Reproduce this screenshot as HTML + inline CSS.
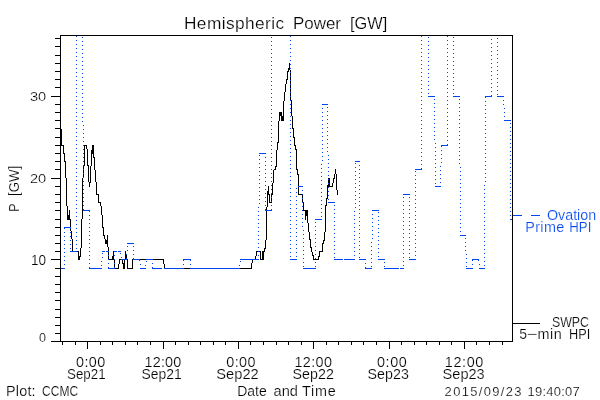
<!DOCTYPE html>
<html><head><meta charset="utf-8"><style>
html,body{margin:0;padding:0;background:#fff;width:600px;height:400px;overflow:hidden}
svg{display:block}
text{font-family:"Liberation Sans", sans-serif;}
</style></head><body>
<svg width="600" height="400" viewBox="0 0 600 400">
<rect width="600" height="400" fill="#fff"/>
<g shape-rendering="crispEdges">
<path fill="#000000" d="M60 35h453v1h-453zM60 36h1v2h-1zM55 38h6v1h-6zM60 39h1v7h-1zM55 46h6v1h-6zM60 47h1v8h-1zM55 55h6v1h-6zM60 56h1v7h-1zM55 63h6v1h-6zM289 63h1v5h-1zM288 68h2v2h-2zM60 64h1v7h-1zM288 70h1v1h-1zM290 70h1v2h-1zM55 71h6v1h-6zM287 71h2v1h-2zM290 73h1v3h-1zM60 72h1v7h-1zM287 72h1v7h-1zM290 77h1v3h-1zM286 79h2v1h-2zM55 79h6v1h-6zM286 80h1v4h-1zM290 81h1v3h-1zM60 80h1v7h-1zM290 85h1v3h-1zM55 87h6v1h-6zM285 84h1v8h-1zM290 89h1v3h-1zM60 88h1v8h-1zM290 93h1v3h-1zM51 96h10v1h-10zM290 97h1v3h-1zM284 92h1v9h-1zM60 97h1v7h-1zM55 104h6v1h-6zM60 105h1v7h-1zM55 112h6v1h-6zM291 100h1v16h-1zM283 101h1v15h-1zM279 112h3v4h-3zM60 113h1v7h-1zM279 116h1v5h-1zM281 116h3v5h-3zM55 120h6v1h-6zM292 116h1v12h-1zM60 121h1v7h-1zM292 128h2v1h-2zM55 128h6v1h-6zM60 129h2v8h-2zM293 129h1v8h-1zM55 137h7v1h-7zM293 137h2v1h-2zM278 121h1v21h-1zM277 142h2v1h-2zM294 138h1v7h-1zM60 138h2v7h-2zM55 145h9v1h-9zM294 145h2v1h-2zM84 145h3v1h-3zM295 146h1v3h-1zM86 146h1v3h-1zM277 143h1v7h-1zM92 145h2v5h-2zM295 149h2v1h-2zM63 146h1v7h-1zM60 146h1v7h-1zM91 150h3v4h-3zM63 153h2v1h-2zM55 153h6v1h-6zM93 154h1v3h-1zM93 157h2v1h-2zM64 154h1v7h-1zM60 154h1v7h-1zM64 161h2v1h-2zM55 161h6v1h-6zM87 149h1v16h-1zM84 146h1v20h-1zM276 150h1v16h-1zM91 154h1v12h-1zM87 165h2v1h-2zM275 166h2v1h-2zM296 150h1v19h-1zM60 162h1v7h-1zM83 166h1v3h-1zM275 167h1v2h-1zM94 158h1v12h-1zM296 169h2v1h-2zM274 169h2v1h-2zM55 169h6v1h-6zM83 170h1v3h-1zM335 169h1v5h-1zM297 170h1v4h-1zM297 174h2v1h-2zM83 174h1v3h-1zM65 162h1v16h-1zM60 170h1v8h-1zM334 174h1v4h-1zM51 178h10v1h-10zM333 178h2v1h-2zM328 178h2v1h-2zM329 179h1v1h-1zM90 166h1v16h-1zM88 166h1v16h-1zM95 170h1v12h-1zM273 170h1v13h-1zM333 179h1v4h-1zM328 180h2v3h-2zM89 182h2v1h-2zM329 183h1v1h-1zM328 184h2v1h-2zM298 175h1v11h-1zM60 179h1v7h-1zM332 183h1v3h-1zM327 185h3v1h-3zM89 183h1v4h-1zM327 186h6v1h-6zM55 186h6v1h-6zM336 174h1v16h-1zM268 186h1v5h-1zM96 182h1v12h-1zM272 183h1v11h-1zM298 187h1v7h-1zM60 187h1v7h-1zM267 191h2v3h-2zM337 190h1v5h-1zM267 194h3v1h-3zM271 194h2v1h-2zM55 194h6v1h-6zM96 194h3v1h-3zM298 194h4v1h-4zM271 195h1v2h-1zM327 187h1v11h-1zM302 195h1v3h-1zM326 198h2v1h-2zM271 198h1v3h-1zM98 195h1v7h-1zM269 195h1v7h-1zM60 195h1v7h-1zM302 199h1v3h-1zM269 202h3v1h-3zM98 202h3v1h-3zM55 202h6v1h-6zM326 199h1v6h-1zM66 178h1v28h-1zM100 203h1v3h-1zM325 205h2v1h-2zM267 195h1v12h-1zM303 202h1v8h-1zM60 203h1v7h-1zM266 207h1v3h-1zM303 210h5v1h-5zM55 210h6v1h-6zM67 206h1v9h-1zM101 206h1v9h-1zM69 210h1v5h-1zM305 211h3v5h-3zM82 178h1v41h-1zM60 211h1v8h-1zM67 215h3v4h-3zM305 216h1v4h-1zM67 219h4v1h-4zM55 219h6v1h-6zM307 216h1v7h-1zM102 215h1v12h-1zM70 220h1v7h-1zM60 220h1v7h-1zM102 227h2v1h-2zM55 227h6v1h-6zM70 229h1v2h-1zM325 206h1v26h-1zM308 223h1v9h-1zM103 228h1v7h-1zM60 228h1v7h-1zM103 235h2v1h-2zM55 235h6v1h-6zM71 231h1v8h-1zM309 232h1v7h-1zM104 236h1v3h-1zM266 211h1v29h-1zM324 232h1v8h-1zM107 235h1v5h-1zM105 239h1v1h-1zM309 239h2v1h-2zM323 240h2v1h-2zM60 236h1v7h-1zM323 241h1v2h-1zM105 240h3v4h-3zM322 243h2v1h-2zM55 243h6v1h-6zM310 240h1v7h-1zM107 244h1v3h-1zM81 219h1v29h-1zM265 240h1v8h-1zM310 247h2v1h-2zM264 248h2v1h-2zM72 239h1v12h-1zM60 244h1v7h-1zM322 244h1v7h-1zM108 247h1v4h-1zM264 249h1v2h-1zM311 248h1v4h-1zM262 251h3v1h-3zM319 251h4v1h-4zM259 251h2v1h-2zM77 251h2v1h-2zM256 251h2v1h-2zM55 251h6v1h-6zM125 251h1v4h-1zM312 252h1v3h-1zM108 252h1v3h-1zM80 248h1v8h-1zM113 251h1v5h-1zM319 252h1v4h-1zM256 252h1v4h-1zM78 252h1v4h-1zM312 255h2v1h-2zM78 256h3v1h-3zM318 256h2v1h-2zM125 255h2v3h-2zM262 252h2v7h-2zM260 252h1v7h-1zM60 252h1v7h-1zM112 256h2v3h-2zM108 256h1v3h-1zM255 256h1v3h-1zM313 256h1v3h-1zM318 257h1v2h-1zM125 258h1v1h-1zM78 257h2v3h-2zM51 259h10v1h-10zM109 259h5v1h-5zM119 259h2v1h-2zM140 259h6v1h-6zM313 259h6v1h-6zM153 259h11v1h-11zM260 259h4v1h-4zM114 260h1v3h-1zM252 260h1v3h-1zM122 260h1v3h-1zM124 260h1v3h-1zM119 260h1v4h-1zM163 260h1v4h-1zM122 263h3v1h-3zM114 264h1v3h-1zM132 259h1v9h-1zM127 259h1v9h-1zM60 260h1v8h-1zM251 263h1v5h-1zM164 264h1v4h-1zM118 264h1v4h-1zM123 264h2v5h-2zM127 268h6v1h-6zM184 268h6v1h-6zM240 268h12v1h-12zM115 268h4v1h-4zM55 268h6v1h-6zM60 269h1v7h-1zM55 276h6v1h-6zM60 277h1v7h-1zM55 284h6v1h-6zM60 285h1v7h-1zM55 292h6v1h-6zM60 293h1v7h-1zM55 300h6v1h-6zM60 301h1v8h-1zM55 309h6v1h-6zM60 310h1v7h-1zM55 317h6v1h-6zM512 36h1v287h-1zM512 323h28v1h-28zM60 318h1v7h-1zM55 325h6v1h-6zM60 326h1v7h-1zM55 333h6v1h-6zM512 324h1v17h-1zM60 334h1v7h-1zM51 341h462v1h-462zM451 342h1v3h-1zM502 342h1v3h-1zM414 342h1v3h-1zM125 342h1v3h-1zM263 342h1v3h-1zM401 342h1v3h-1zM112 342h1v3h-1zM75 342h1v3h-1zM213 342h1v3h-1zM351 342h1v3h-1zM62 342h1v3h-1zM489 342h1v3h-1zM200 342h1v3h-1zM250 342h1v3h-1zM301 342h1v3h-1zM439 342h1v3h-1zM150 342h1v3h-1zM338 342h1v3h-1zM476 342h1v3h-1zM100 342h1v3h-1zM288 342h1v3h-1zM426 342h1v3h-1zM137 342h1v3h-1zM188 342h1v3h-1zM376 342h1v3h-1zM225 342h1v3h-1zM363 342h1v3h-1zM276 342h1v3h-1zM326 342h1v3h-1zM175 342h1v3h-1zM163 342h1v7h-1zM389 342h1v7h-1zM238 342h1v7h-1zM87 342h1v7h-1zM464 342h1v7h-1zM313 342h1v7h-1z"/>
<path fill="#0046f0" d="M447 36h1v1h-1zM76 36h1v1h-1zM290 36h1v1h-1zM421 36h1v1h-1zM453 37h1v1h-1zM428 37h1v1h-1zM82 37h1v1h-1zM271 37h1v1h-1zM497 38h1v1h-1zM491 39h1v1h-1zM447 40h1v1h-1zM76 40h1v1h-1zM290 40h1v1h-1zM421 40h1v1h-1zM453 41h1v1h-1zM428 41h1v1h-1zM82 41h1v1h-1zM271 41h1v1h-1zM497 42h1v1h-1zM491 43h1v1h-1zM447 44h1v1h-1zM76 44h1v1h-1zM290 44h1v1h-1zM421 44h1v1h-1zM453 45h1v1h-1zM428 45h1v1h-1zM82 45h1v1h-1zM271 45h1v1h-1zM497 46h1v1h-1zM491 47h1v1h-1zM447 48h1v1h-1zM76 48h1v1h-1zM290 48h1v1h-1zM421 48h1v1h-1zM453 49h1v1h-1zM428 49h1v1h-1zM82 49h1v1h-1zM271 49h1v1h-1zM497 50h1v1h-1zM491 51h1v1h-1zM447 52h1v1h-1zM76 52h1v1h-1zM290 52h1v1h-1zM421 52h1v1h-1zM453 53h1v1h-1zM428 53h1v1h-1zM82 53h1v1h-1zM271 53h1v1h-1zM497 54h1v1h-1zM491 55h1v1h-1zM447 56h1v1h-1zM76 56h1v1h-1zM290 56h1v1h-1zM421 56h1v1h-1zM453 57h1v1h-1zM428 57h1v1h-1zM82 57h1v1h-1zM271 57h1v1h-1zM497 58h1v1h-1zM491 59h1v1h-1zM447 60h1v1h-1zM76 60h1v1h-1zM290 60h1v1h-1zM421 60h1v1h-1zM453 61h1v1h-1zM428 61h1v1h-1zM82 61h1v1h-1zM271 61h1v1h-1zM497 62h1v1h-1zM491 63h1v1h-1zM447 64h1v1h-1zM76 64h1v1h-1zM290 64h1v1h-1zM421 64h1v1h-1zM453 65h1v1h-1zM428 65h1v1h-1zM82 65h1v1h-1zM271 65h1v1h-1zM497 66h1v1h-1zM491 67h1v1h-1zM447 68h1v1h-1zM76 68h1v1h-1zM290 68h1v1h-1zM421 68h1v1h-1zM453 69h1v1h-1zM428 69h1v1h-1zM82 69h1v1h-1zM271 69h1v1h-1zM497 70h1v1h-1zM491 71h1v1h-1zM447 72h1v1h-1zM76 72h1v1h-1zM290 72h1v1h-1zM421 72h1v1h-1zM453 73h1v1h-1zM428 73h1v1h-1zM82 73h1v1h-1zM271 73h1v1h-1zM497 74h1v1h-1zM491 75h1v1h-1zM447 76h1v1h-1zM76 76h1v1h-1zM290 76h1v1h-1zM421 76h1v1h-1zM453 77h1v1h-1zM428 77h1v1h-1zM82 77h1v1h-1zM271 77h1v1h-1zM497 78h1v1h-1zM491 79h1v1h-1zM447 80h1v1h-1zM76 80h1v1h-1zM290 80h1v1h-1zM421 80h1v1h-1zM453 81h1v1h-1zM428 81h1v1h-1zM82 81h1v1h-1zM271 81h1v1h-1zM497 82h1v1h-1zM491 83h1v1h-1zM447 84h1v1h-1zM76 84h1v1h-1zM290 84h1v1h-1zM421 84h1v1h-1zM453 85h1v1h-1zM428 85h1v1h-1zM82 85h1v1h-1zM271 85h1v1h-1zM497 86h1v1h-1zM491 87h1v1h-1zM447 88h1v1h-1zM76 88h1v1h-1zM290 88h1v1h-1zM421 88h1v1h-1zM453 89h1v1h-1zM428 89h1v1h-1zM82 89h1v1h-1zM271 89h1v1h-1zM497 90h1v1h-1zM491 91h1v1h-1zM447 92h1v1h-1zM76 92h1v1h-1zM290 92h1v1h-1zM421 92h1v1h-1zM453 93h1v1h-1zM428 93h1v1h-1zM82 93h1v1h-1zM271 93h1v1h-1zM497 94h1v1h-1zM491 95h1v1h-1zM447 96h1v1h-1zM76 96h1v1h-1zM428 96h7v1h-7zM421 96h1v1h-1zM485 96h7v1h-7zM290 96h1v1h-1zM497 96h7v1h-7zM453 96h7v1h-7zM485 97h1v1h-1zM82 97h1v1h-1zM271 97h1v1h-1zM459 99h1v1h-1zM434 99h1v1h-1zM447 100h1v1h-1zM76 100h1v1h-1zM503 100h1v1h-1zM421 100h1v1h-1zM290 100h1v1h-1zM485 101h1v1h-1zM82 101h1v1h-1zM271 101h1v1h-1zM459 103h1v1h-1zM434 103h1v1h-1zM447 104h1v1h-1zM76 104h1v1h-1zM503 104h1v1h-1zM421 104h1v1h-1zM290 104h1v1h-1zM322 104h6v1h-6zM485 105h1v1h-1zM82 105h1v1h-1zM271 105h1v1h-1zM327 107h1v1h-1zM459 107h1v1h-1zM434 107h1v1h-1zM447 108h1v1h-1zM76 108h1v1h-1zM421 108h1v1h-1zM290 108h1v1h-1zM504 108h1v1h-1zM322 108h1v1h-1zM485 109h1v1h-1zM82 109h1v1h-1zM271 109h1v1h-1zM327 111h1v1h-1zM459 111h1v1h-1zM434 111h1v1h-1zM447 112h1v1h-1zM76 112h1v1h-1zM421 112h1v1h-1zM290 112h1v1h-1zM504 112h1v1h-1zM322 112h1v1h-1zM485 113h1v1h-1zM82 113h1v1h-1zM271 113h1v1h-1zM327 115h1v1h-1zM459 115h1v1h-1zM434 115h1v1h-1zM447 116h1v1h-1zM76 116h1v1h-1zM421 116h1v1h-1zM290 116h1v1h-1zM504 116h1v1h-1zM322 116h1v1h-1zM485 117h1v1h-1zM82 117h1v1h-1zM271 117h1v1h-1zM327 119h1v1h-1zM459 119h1v1h-1zM434 119h1v1h-1zM447 120h1v1h-1zM76 120h1v1h-1zM421 120h1v1h-1zM290 120h1v1h-1zM504 120h7v1h-7zM322 120h1v1h-1zM485 121h1v1h-1zM82 121h1v1h-1zM271 121h1v1h-1zM327 123h1v1h-1zM510 123h1v1h-1zM459 123h1v1h-1zM434 123h1v1h-1zM447 124h1v1h-1zM76 124h1v1h-1zM421 124h1v1h-1zM290 124h1v1h-1zM322 124h1v1h-1zM83 125h1v1h-1zM271 125h1v1h-1zM485 125h1v1h-1zM327 127h1v1h-1zM510 127h1v1h-1zM459 127h1v1h-1zM434 127h1v1h-1zM447 128h1v1h-1zM76 128h1v1h-1zM421 128h1v1h-1zM290 128h1v1h-1zM322 128h1v1h-1zM83 129h1v1h-1zM271 129h1v1h-1zM485 129h1v1h-1zM327 131h1v1h-1zM510 131h1v1h-1zM459 131h1v1h-1zM434 131h1v1h-1zM447 132h1v1h-1zM76 132h1v1h-1zM421 132h1v1h-1zM290 132h1v1h-1zM322 132h1v1h-1zM83 133h1v1h-1zM271 133h1v1h-1zM485 133h1v1h-1zM327 135h1v1h-1zM510 135h1v1h-1zM459 135h1v1h-1zM434 135h1v1h-1zM447 136h1v1h-1zM76 136h1v1h-1zM421 136h1v1h-1zM290 136h1v1h-1zM322 136h1v1h-1zM83 137h1v1h-1zM271 137h1v1h-1zM485 137h1v1h-1zM327 139h1v1h-1zM510 139h1v1h-1zM459 139h1v1h-1zM434 139h1v1h-1zM447 140h1v1h-1zM76 140h1v1h-1zM421 140h1v1h-1zM290 140h1v1h-1zM322 140h1v1h-1zM83 141h1v1h-1zM271 141h1v1h-1zM485 141h1v1h-1zM327 143h1v1h-1zM510 143h1v1h-1zM459 143h1v1h-1zM435 143h1v1h-1zM447 144h1v1h-1zM76 144h1v1h-1zM421 144h1v1h-1zM290 144h1v1h-1zM322 144h1v1h-1zM83 145h1v1h-1zM441 145h7v1h-7zM271 145h1v1h-1zM485 145h1v1h-1zM441 146h1v1h-1zM327 147h1v1h-1zM510 147h1v1h-1zM459 147h1v1h-1zM435 147h1v1h-1zM76 148h1v1h-1zM421 148h1v1h-1zM290 148h1v1h-1zM322 148h1v1h-1zM83 149h1v1h-1zM271 149h1v1h-1zM485 149h1v1h-1zM441 150h1v1h-1zM327 151h1v1h-1zM510 151h1v1h-1zM459 151h1v1h-1zM435 151h1v1h-1zM76 152h1v1h-1zM421 152h1v1h-1zM290 152h1v1h-1zM322 152h1v1h-1zM83 153h1v1h-1zM259 153h7v1h-7zM271 153h1v1h-1zM485 153h1v1h-1zM441 154h1v1h-1zM435 155h1v1h-1zM459 155h1v1h-1zM328 155h1v1h-1zM510 155h1v1h-1zM259 155h1v1h-1zM76 156h1v1h-1zM421 156h1v1h-1zM290 156h1v1h-1zM322 156h1v1h-1zM83 157h1v1h-1zM265 157h1v1h-1zM271 157h1v1h-1zM485 157h1v1h-1zM441 158h1v1h-1zM435 159h1v1h-1zM459 159h1v1h-1zM328 159h1v1h-1zM510 159h1v1h-1zM259 159h1v1h-1zM76 160h1v1h-1zM421 160h1v1h-1zM290 160h1v1h-1zM322 160h1v1h-1zM271 161h1v1h-1zM485 161h1v1h-1zM355 161h5v1h-5zM83 161h1v1h-1zM265 161h1v1h-1zM441 162h1v1h-1zM435 163h1v1h-1zM459 163h1v1h-1zM328 163h1v1h-1zM510 163h1v1h-1zM355 163h1v1h-1zM259 163h1v1h-1zM321 164h1v1h-1zM76 164h1v1h-1zM290 164h1v1h-1zM421 164h1v1h-1zM271 165h1v1h-1zM485 165h1v1h-1zM359 165h1v1h-1zM83 165h1v1h-1zM265 165h1v1h-1zM440 166h1v1h-1zM460 167h1v1h-1zM435 167h1v1h-1zM328 167h1v1h-1zM510 167h1v1h-1zM355 167h1v1h-1zM259 167h1v1h-1zM321 168h1v1h-1zM76 168h1v1h-1zM290 168h1v1h-1zM421 168h1v1h-1zM271 169h1v1h-1zM485 169h1v1h-1zM359 169h1v1h-1zM83 169h1v1h-1zM415 169h7v1h-7zM265 169h1v1h-1zM440 170h1v1h-1zM460 171h1v1h-1zM435 171h1v1h-1zM415 171h1v1h-1zM328 171h1v1h-1zM510 171h1v1h-1zM355 171h1v1h-1zM259 171h1v1h-1zM321 172h1v1h-1zM76 172h1v1h-1zM290 172h1v1h-1zM271 173h1v1h-1zM485 173h1v1h-1zM359 173h1v1h-1zM83 173h1v1h-1zM265 173h1v1h-1zM440 174h1v1h-1zM460 175h1v1h-1zM435 175h1v1h-1zM415 175h1v1h-1zM328 175h1v1h-1zM510 175h1v1h-1zM355 175h1v1h-1zM259 175h1v1h-1zM321 176h1v1h-1zM76 176h1v1h-1zM290 176h1v1h-1zM271 177h1v1h-1zM485 177h1v1h-1zM359 177h1v1h-1zM83 177h1v1h-1zM265 177h1v1h-1zM440 178h1v1h-1zM460 179h1v1h-1zM435 179h1v1h-1zM415 179h1v1h-1zM328 179h1v1h-1zM510 179h1v1h-1zM355 179h1v1h-1zM259 179h1v1h-1zM321 180h1v1h-1zM76 180h1v1h-1zM290 180h1v1h-1zM271 181h1v1h-1zM485 181h1v1h-1zM359 181h1v1h-1zM83 181h1v1h-1zM265 181h1v1h-1zM440 182h1v1h-1zM460 183h1v1h-1zM435 183h1v1h-1zM415 183h1v1h-1zM328 183h1v1h-1zM510 183h1v1h-1zM355 183h1v1h-1zM259 183h1v1h-1zM321 184h1v1h-1zM76 184h1v1h-1zM290 184h1v1h-1zM271 185h1v1h-1zM359 185h1v1h-1zM83 185h1v1h-1zM484 185h1v1h-1zM265 185h1v1h-1zM298 186h5v1h-5zM435 186h6v1h-6zM460 187h1v1h-1zM415 187h1v1h-1zM328 187h1v1h-1zM510 187h1v1h-1zM355 187h1v1h-1zM259 187h1v1h-1zM321 188h1v1h-1zM76 188h1v1h-1zM296 188h1v1h-1zM290 188h1v1h-1zM271 189h1v1h-1zM359 189h1v1h-1zM83 189h1v1h-1zM484 189h1v1h-1zM265 189h1v1h-1zM302 190h1v1h-1zM460 191h1v1h-1zM415 191h1v1h-1zM328 191h1v1h-1zM510 191h1v1h-1zM355 191h1v1h-1zM259 191h1v1h-1zM321 192h1v1h-1zM76 192h1v1h-1zM296 192h1v1h-1zM290 192h1v1h-1zM271 193h1v1h-1zM359 193h1v1h-1zM83 193h1v1h-1zM484 193h1v1h-1zM265 193h1v1h-1zM302 194h1v1h-1zM403 194h7v1h-7zM460 195h1v1h-1zM415 195h1v1h-1zM328 195h1v1h-1zM510 195h1v1h-1zM355 195h1v1h-1zM259 195h1v1h-1zM321 196h1v1h-1zM76 196h1v1h-1zM296 196h1v1h-1zM290 196h1v1h-1zM271 197h1v1h-1zM359 197h1v1h-1zM83 197h1v1h-1zM484 197h1v1h-1zM409 197h1v1h-1zM265 197h1v1h-1zM403 197h1v1h-1zM302 198h1v1h-1zM460 199h1v1h-1zM415 199h1v1h-1zM328 199h1v1h-1zM510 199h1v1h-1zM355 199h1v1h-1zM259 199h1v1h-1zM321 200h1v1h-1zM76 200h1v1h-1zM296 200h1v1h-1zM290 200h1v1h-1zM271 201h1v1h-1zM359 201h1v1h-1zM83 201h1v1h-1zM484 201h1v1h-1zM409 201h1v1h-1zM265 201h1v1h-1zM403 201h1v1h-1zM302 202h1v1h-1zM328 202h7v1h-7zM460 203h1v1h-1zM415 203h1v1h-1zM510 203h1v1h-1zM355 203h1v1h-1zM259 203h1v1h-1zM321 204h1v1h-1zM76 204h1v1h-1zM296 204h1v1h-1zM290 204h1v1h-1zM271 205h1v1h-1zM359 205h1v1h-1zM334 205h1v1h-1zM83 205h1v1h-1zM484 205h1v1h-1zM409 205h1v1h-1zM265 205h1v1h-1zM403 205h1v1h-1zM302 206h1v1h-1zM460 207h1v1h-1zM415 207h1v1h-1zM510 207h1v1h-1zM355 207h1v1h-1zM258 207h1v1h-1zM321 208h1v1h-1zM76 208h1v1h-1zM296 208h1v1h-1zM290 208h1v1h-1zM271 209h1v1h-1zM359 209h1v1h-1zM334 209h1v1h-1zM83 209h1v1h-1zM484 209h1v1h-1zM409 209h1v1h-1zM265 209h1v1h-1zM403 209h1v1h-1zM372 210h7v1h-7zM83 210h7v1h-7zM265 210h7v1h-7zM302 210h1v1h-1zM460 211h1v1h-1zM354 211h1v1h-1zM415 211h1v1h-1zM89 211h1v1h-1zM510 211h1v1h-1zM258 211h1v1h-1zM76 212h1v1h-1zM296 212h1v1h-1zM290 212h1v1h-1zM321 212h1v1h-1zM378 212h1v1h-1zM359 213h1v1h-1zM334 213h1v1h-1zM484 213h1v1h-1zM409 213h1v1h-1zM403 213h1v1h-1zM372 214h1v1h-1zM302 214h1v1h-1zM460 215h1v1h-1zM354 215h1v1h-1zM415 215h1v1h-1zM531 215h9v1h-9zM89 215h1v1h-1zM510 215h1v1h-1zM513 215h9v1h-9zM258 215h1v1h-1zM76 216h1v1h-1zM296 216h1v1h-1zM290 216h1v1h-1zM321 216h1v1h-1zM378 216h1v1h-1zM359 217h1v1h-1zM334 217h1v1h-1zM484 217h1v1h-1zM409 217h1v1h-1zM403 217h1v1h-1zM372 218h1v1h-1zM302 218h1v1h-1zM460 219h1v1h-1zM354 219h1v1h-1zM415 219h1v1h-1zM510 219h2v1h-2zM315 219h7v1h-7zM89 219h1v1h-1zM258 219h1v1h-1zM76 220h1v1h-1zM378 220h1v1h-1zM296 220h1v1h-1zM290 220h1v1h-1zM359 221h1v1h-1zM334 221h1v1h-1zM484 221h1v1h-1zM409 221h1v1h-1zM403 221h1v1h-1zM372 222h1v1h-1zM302 222h1v1h-1zM315 222h1v1h-1zM460 223h1v1h-1zM354 223h1v1h-1zM415 223h1v1h-1zM89 223h1v1h-1zM258 223h1v1h-1zM76 224h1v1h-1zM378 224h1v1h-1zM296 224h1v1h-1zM290 224h1v1h-1zM359 225h1v1h-1zM334 225h1v1h-1zM484 225h1v1h-1zM409 225h1v1h-1zM403 225h1v1h-1zM372 226h1v1h-1zM302 226h1v1h-1zM315 226h1v1h-1zM460 227h1v1h-1zM354 227h1v1h-1zM415 227h1v1h-1zM89 227h1v1h-1zM64 227h7v1h-7zM258 227h1v1h-1zM76 228h1v1h-1zM296 228h1v1h-1zM70 228h1v1h-1zM290 228h1v1h-1zM378 228h1v1h-1zM64 228h1v1h-1zM359 229h1v1h-1zM334 229h1v1h-1zM484 229h1v1h-1zM409 229h1v1h-1zM403 229h1v1h-1zM372 230h1v1h-1zM303 230h1v1h-1zM315 230h1v1h-1zM460 231h1v1h-1zM354 231h1v1h-1zM415 231h1v1h-1zM89 231h1v1h-1zM258 231h1v1h-1zM76 232h1v1h-1zM296 232h1v1h-1zM70 232h1v1h-1zM290 232h1v1h-1zM378 232h1v1h-1zM64 232h1v1h-1zM359 233h1v1h-1zM334 233h1v1h-1zM484 233h1v1h-1zM409 233h1v1h-1zM403 233h1v1h-1zM372 234h1v1h-1zM303 234h1v1h-1zM315 234h1v1h-1zM354 235h1v1h-1zM415 235h1v1h-1zM460 235h6v1h-6zM89 235h1v1h-1zM258 235h1v1h-1zM76 236h1v1h-1zM296 236h1v1h-1zM70 236h1v1h-1zM290 236h1v1h-1zM378 236h1v1h-1zM64 236h1v1h-1zM359 237h1v1h-1zM334 237h1v1h-1zM484 237h1v1h-1zM409 237h1v1h-1zM403 237h1v1h-1zM372 238h1v1h-1zM303 238h1v1h-1zM465 238h1v1h-1zM315 238h1v1h-1zM415 239h1v1h-1zM354 239h1v1h-1zM89 239h1v1h-1zM258 239h1v1h-1zM76 240h1v1h-1zM296 240h1v1h-1zM70 240h1v1h-1zM290 240h1v1h-1zM378 240h1v1h-1zM64 240h1v1h-1zM359 241h1v1h-1zM334 241h1v1h-1zM484 241h1v1h-1zM409 241h1v1h-1zM403 241h1v1h-1zM303 242h1v1h-1zM371 242h1v1h-1zM465 242h1v1h-1zM315 242h1v1h-1zM127 243h7v1h-7zM354 243h1v1h-1zM415 243h1v1h-1zM89 243h1v1h-1zM258 243h1v1h-1zM76 244h1v1h-1zM296 244h1v1h-1zM70 244h1v1h-1zM290 244h1v1h-1zM378 244h1v1h-1zM64 244h1v1h-1zM359 245h1v1h-1zM334 245h1v1h-1zM484 245h1v1h-1zM409 245h1v1h-1zM403 245h1v1h-1zM303 246h1v1h-1zM133 246h1v1h-1zM315 246h1v1h-1zM371 246h1v1h-1zM127 246h1v1h-1zM465 246h1v1h-1zM415 247h1v1h-1zM354 247h1v1h-1zM89 247h1v1h-1zM258 247h1v1h-1zM76 248h1v1h-1zM296 248h1v1h-1zM70 248h1v1h-1zM290 248h1v1h-1zM378 248h1v1h-1zM64 248h1v1h-1zM359 249h1v1h-1zM334 249h1v1h-1zM484 249h1v1h-1zM409 249h1v1h-1zM403 249h1v1h-1zM303 250h1v1h-1zM133 250h1v1h-1zM315 250h1v1h-1zM371 250h1v1h-1zM127 250h1v1h-1zM465 250h1v1h-1zM118 251h3v1h-3zM102 251h3v1h-3zM354 251h1v1h-1zM415 251h1v1h-1zM70 251h7v1h-7zM114 251h3v1h-3zM89 251h1v1h-1zM106 251h3v1h-3zM258 251h1v1h-1zM290 252h1v1h-1zM378 252h1v1h-1zM296 252h1v1h-1zM64 252h1v1h-1zM359 253h1v1h-1zM334 253h1v1h-1zM120 253h1v1h-1zM484 253h1v1h-1zM409 253h1v1h-1zM102 253h1v1h-1zM403 253h1v1h-1zM303 254h1v1h-1zM133 254h1v1h-1zM466 254h1v1h-1zM126 254h1v1h-1zM315 254h1v1h-1zM371 254h1v1h-1zM114 255h1v1h-1zM354 255h1v1h-1zM415 255h1v1h-1zM108 255h1v1h-1zM89 255h1v1h-1zM258 255h1v1h-1zM290 256h1v1h-1zM378 256h1v1h-1zM296 256h1v1h-1zM64 256h1v1h-1zM359 257h1v1h-1zM334 257h1v1h-1zM121 257h1v1h-1zM484 257h1v1h-1zM409 257h1v1h-1zM102 257h1v1h-1zM403 257h1v1h-1zM303 258h1v1h-1zM133 258h1v1h-1zM466 258h1v1h-1zM126 258h1v1h-1zM315 258h1v1h-1zM371 258h1v1h-1zM114 259h1v1h-1zM409 259h7v1h-7zM133 259h7v1h-7zM121 259h6v1h-6zM183 259h8v1h-8zM240 259h19v1h-19zM344 259h11v1h-11zM108 259h1v1h-1zM359 259h7v1h-7zM290 259h7v1h-7zM89 259h1v1h-1zM472 259h7v1h-7zM334 259h9v1h-9zM378 259h7v1h-7zM146 259h7v1h-7zM139 260h1v1h-1zM190 260h1v1h-1zM472 260h1v1h-1zM183 260h1v1h-1zM64 260h1v1h-1zM478 260h1v1h-1zM101 261h1v1h-1zM146 261h1v1h-1zM484 261h1v1h-1zM240 261h1v1h-1zM403 261h1v1h-1zM303 262h1v1h-1zM466 262h1v1h-1zM315 262h1v1h-1zM371 262h1v1h-1zM384 262h1v1h-1zM114 263h1v1h-1zM365 263h1v1h-1zM152 263h1v1h-1zM108 263h1v1h-1zM89 263h1v1h-1zM479 264h1v1h-1zM190 264h1v1h-1zM472 264h1v1h-1zM183 264h1v1h-1zM64 264h1v1h-1zM140 264h1v1h-1zM239 265h1v1h-1zM145 265h1v1h-1zM101 265h1v1h-1zM484 265h1v1h-1zM403 265h1v1h-1zM303 266h1v1h-1zM466 266h1v1h-1zM315 266h1v1h-1zM371 266h1v1h-1zM384 266h1v1h-1zM114 267h1v1h-1zM365 267h1v1h-1zM152 267h1v1h-1zM108 267h1v1h-1zM89 267h1v1h-1zM365 268h7v1h-7zM190 268h50v1h-50zM140 268h6v1h-6zM152 268h10v1h-10zM303 268h13v1h-13zM61 268h4v1h-4zM466 268h7v1h-7zM384 268h15v1h-15zM164 268h20v1h-20zM108 268h7v1h-7zM479 268h6v1h-6zM89 268h13v1h-13zM400 268h4v1h-4z"/>
</g>
<defs><filter id="g"><feOffset dx="0" dy="0"/></filter></defs>
<g filter="url(#g)" stroke="#fff" stroke-width="0.2">
<text x="184.00" y="29.00" font-size="17.27" fill="#000000" textLength="100.04" lengthAdjust="spacing">Hemispheric</text>
<text x="293.00" y="29.00" font-size="17.27" fill="#000000" textLength="48.02" lengthAdjust="spacingAndGlyphs">Power</text>
<text x="350.00" y="29.00" font-size="17.27" fill="#000000" textLength="37.25" lengthAdjust="spacingAndGlyphs">[GW]</text>
<text x="30.00" y="101.00" font-size="12.95" fill="#000000" textLength="16.23" lengthAdjust="spacingAndGlyphs">30</text>
<text x="30.00" y="183.00" font-size="12.95" fill="#000000" textLength="16.23" lengthAdjust="spacingAndGlyphs">20</text>
<text x="31.00" y="265.00" font-size="14.39" fill="#000000" textLength="15.08" lengthAdjust="spacingAndGlyphs">10</text>
<text x="39.00" y="342.00" font-size="12.95" fill="#000000" textLength="7.00" lengthAdjust="spacingAndGlyphs">0</text>
<text x="76.00" y="367.00" font-size="14.39" fill="#000000" textLength="29.15" lengthAdjust="spacing">0:00</text>
<text x="67.00" y="379.00" font-size="14.39" fill="#000000" textLength="38.61" lengthAdjust="spacingAndGlyphs">Sep21</text>
<text x="144.60" y="367.00" font-size="14.39" fill="#000000" textLength="36.57" lengthAdjust="spacing">12:00</text>
<text x="141.60" y="379.00" font-size="14.39" fill="#000000" textLength="40.14" lengthAdjust="spacingAndGlyphs">Sep21</text>
<text x="226.30" y="367.00" font-size="14.39" fill="#000000" textLength="29.17" lengthAdjust="spacing">0:00</text>
<text x="216.30" y="379.00" font-size="14.39" fill="#000000" textLength="42.43" lengthAdjust="spacingAndGlyphs">Sep22</text>
<text x="294.50" y="367.00" font-size="14.39" fill="#000000" textLength="37.38" lengthAdjust="spacing">12:00</text>
<text x="292.60" y="379.00" font-size="14.39" fill="#000000" textLength="41.23" lengthAdjust="spacingAndGlyphs">Sep22</text>
<text x="376.90" y="367.00" font-size="14.39" fill="#000000" textLength="29.89" lengthAdjust="spacing">0:00</text>
<text x="367.60" y="379.00" font-size="14.39" fill="#000000" textLength="41.23" lengthAdjust="spacingAndGlyphs">Sep23</text>
<text x="444.80" y="367.00" font-size="14.39" fill="#000000" textLength="38.45" lengthAdjust="spacing">12:00</text>
<text x="442.60" y="379.00" font-size="14.39" fill="#000000" textLength="42.13" lengthAdjust="spacingAndGlyphs">Sep23</text>
<text x="6.00" y="396.00" font-size="14.39" fill="#000000" textLength="29.61" lengthAdjust="spacing">Plot:</text>
<text x="42.00" y="396.00" font-size="14.39" fill="#000000" textLength="36.09" lengthAdjust="spacingAndGlyphs">CCMC</text>
<text x="237.20" y="396.00" font-size="14.39" fill="#000000" textLength="29.50" lengthAdjust="spacingAndGlyphs">Date</text>
<text x="273.60" y="396.00" font-size="14.39" fill="#000000" textLength="24.38" lengthAdjust="spacingAndGlyphs">and</text>
<text x="301.90" y="396.00" font-size="14.39" fill="#000000" textLength="33.79" lengthAdjust="spacing">Time</text>
<text x="444.60" y="396.00" font-size="12.95" fill="#000000" textLength="76.82" lengthAdjust="spacing">2015/09/23</text>
<text x="527.60" y="396.00" font-size="12.95" fill="#000000" textLength="52.16" lengthAdjust="spacing">19:40:07</text>
<text x="551.90" y="327.00" font-size="14.39" fill="#000000" textLength="37.12" lengthAdjust="spacingAndGlyphs">SWPC</text>
<text x="519.20" y="339.00" font-size="14.39" fill="#000000" textLength="7.78" lengthAdjust="spacingAndGlyphs">5</text>
<text x="526.60" y="339.00" font-size="14.39" fill="#000000" textLength="10.93" lengthAdjust="spacingAndGlyphs">−</text>
<text x="537.60" y="339.00" font-size="14.39" fill="#000000" textLength="24.07" lengthAdjust="spacing">min</text>
<text x="569.00" y="339.00" font-size="14.39" fill="#000000" textLength="21.24" lengthAdjust="spacingAndGlyphs">HPI</text>
<text x="547.00" y="220.00" font-size="14.39" fill="#0046f0" textLength="49.16" lengthAdjust="spacingAndGlyphs">Ovation</text>
<text x="525.30" y="232.00" font-size="14.39" fill="#0046f0" textLength="38.93" lengthAdjust="spacing">Prime</text>
<text x="569.30" y="232.00" font-size="14.39" fill="#0046f0" textLength="22.03" lengthAdjust="spacingAndGlyphs">HPI</text>
<text x="0" y="0" font-size="14.40" fill="#000" transform="translate(19.00 212.00) rotate(-90)" textLength="8.57" lengthAdjust="spacingAndGlyphs">P</text>
<text x="0" y="0" font-size="14.40" fill="#000" transform="translate(19.00 196.00) rotate(-90)" textLength="30.15" lengthAdjust="spacingAndGlyphs">[GW]</text>
</g>
</svg>
</body></html>
